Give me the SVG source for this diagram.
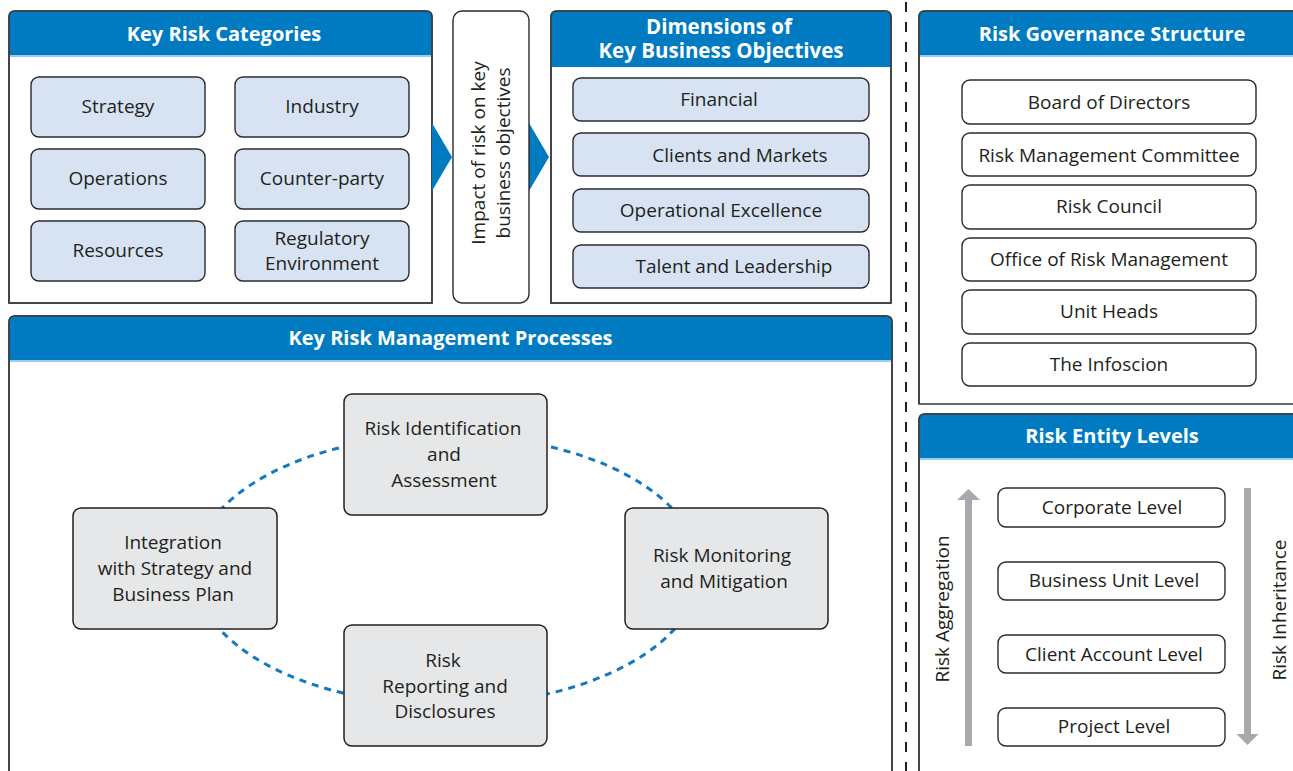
<svg xmlns="http://www.w3.org/2000/svg" width="1293" height="771" viewBox="0 0 1293 771">
<style>
  .panel { fill: #ffffff; stroke: #3a3a3a; stroke-width: 1.5; }
  .edge { fill: none; stroke: #3a3a3a; stroke-width: 1.5; }
  .hdr { fill: #007bc2; }
  .hdrline { stroke: #9ccbee; stroke-width: 2; }
  .title { font-family: "Open Sans", "Liberation Sans", sans-serif; font-weight: bold; font-size: 20px; fill: #ffffff; text-anchor: middle; }
  .t { font-family: "Open Sans", "Liberation Sans", sans-serif; font-size: 19px; fill: #231f20; text-anchor: middle; }
  .blue { fill: #d7e3f3; stroke: #2b2b2b; stroke-width: 1.4; }
  .white { fill: #ffffff; stroke: #2b2b2b; stroke-width: 1.4; }
  .grey { fill: #e6e7e8; stroke: #231f20; stroke-width: 1.5; }
  .tri { fill: #007bc2; }
  .garrow { fill: #a7a9ac; }
</style>
<rect width="1293" height="771" fill="#ffffff"/>

<g id="key-risk-categories">
  <path class="panel" d="M9,303 V17 Q9,11 15,11 H426 Q432,11 432,17 V303 Z"/>
  <path class="hdr" d="M9,56 V17 Q9,11 15,11 H426 Q432,11 432,17 V56 Z"/>
  <line class="hdrline" x1="9.75" y1="56" x2="431.25" y2="56"/>
  <path class="edge" d="M9,303 V17 Q9,11 15,11 H426 Q432,11 432,17 V303 Z"/>
  <text class="title" x="224" y="41">Key Risk Categories</text>
</g>

<g id="dimensions">
  <path class="panel" d="M551,303 V17 Q551,11 557,11 H885 Q891,11 891,17 V303 Z"/>
  <path class="hdr" d="M551,67 V17 Q551,11 557,11 H885 Q891,11 891,17 V67 Z"/>
  <path class="edge" d="M551,303 V17 Q551,11 557,11 H885 Q891,11 891,17 V303 Z"/>
  <text class="title" style="font-size:20.5px"><tspan x="719" y="34">Dimensions of</tspan><tspan x="721" y="58">Key Business Objectives</tspan></text>
</g>

<g id="governance">
  <path class="panel" d="M919,404 V17 Q919,11 925,11 H1300 V404 Z"/>
  <path class="hdr" d="M919,56 V17 Q919,11 925,11 H1300 V56 Z"/>
  <line class="hdrline" x1="919.75" y1="56" x2="1300" y2="56"/>
  <path class="edge" d="M919,404 V17 Q919,11 925,11 H1300"/>
  <text class="title" x="1112" y="41">Risk Governance Structure</text>
</g>

<g id="entity-levels">
  <path class="panel" d="M919,780 V420 Q919,414 925,414 H1300 V780 Z"/>
  <path class="hdr" d="M919,459 V420 Q919,414 925,414 H1300 V459 Z"/>
  <line class="hdrline" x1="919.75" y1="459" x2="1300" y2="459"/>
  <path class="edge" d="M919,780 V420 Q919,414 925,414 H1300"/>
  <text class="title" x="1112" y="443">Risk Entity Levels</text>
  <text class="t" transform="translate(949,609) rotate(-90)" x="0" y="0">Risk Aggregation</text>
  <text class="t" transform="translate(1286,610) rotate(-90)" x="0" y="0">Risk Inheritance</text>
</g>

<g id="processes">
  <path class="panel" d="M9,780 V322 Q9,316 15,316 H886 Q892,316 892,322 V780 Z"/>
  <path class="hdr" d="M9,361 V322 Q9,316 15,316 H886 Q892,316 892,322 V361 Z"/>
  <line class="hdrline" x1="9.75" y1="361" x2="891.25" y2="361"/>
  <path class="edge" d="M9,780 V322 Q9,316 15,316 H886 Q892,316 892,322 V780"/>
  <text class="title" x="450.5" y="345">Key Risk Management Processes</text>
</g>

<g id="connectors">
  <polygon class="tri" points="432,123 452,157 432,191"/>
  <polygon class="tri" points="529,123 549,157 529,191"/>
  <line x1="906" y1="2" x2="906" y2="771" stroke="#231f20" stroke-width="2" stroke-dasharray="10 10"/>
  <ellipse id="cycle" cx="447" cy="570" rx="253" ry="135" fill="none" stroke="#1479bd" stroke-width="3" stroke-dasharray="7 6"/>
  <g id="arrow-aggregation">
    <rect class="garrow" x="965" y="499" width="7" height="247"/>
    <polygon class="garrow" points="957,500 968.5,489 980,500"/>
  </g>
  <g id="arrow-inheritance">
    <rect class="garrow" x="1244" y="488" width="7" height="247"/>
    <polygon class="garrow" points="1236.5,734 1258.5,734 1247.5,745"/>
  </g>
</g>

<g id="strategy"><rect class="blue" x="31" y="77" width="174" height="60" rx="8"/><text class="t" x="118" y="113">Strategy</text></g>
<g id="industry"><rect class="blue" x="235" y="77" width="174" height="60" rx="8"/><text class="t" x="322" y="113">Industry</text></g>
<g id="operations"><rect class="blue" x="31" y="149" width="174" height="60" rx="8"/><text class="t" x="118" y="185">Operations</text></g>
<g id="counter-party"><rect class="blue" x="235" y="149" width="174" height="60" rx="8"/><text class="t" x="322" y="185">Counter-party</text></g>
<g id="resources"><rect class="blue" x="31" y="221" width="174" height="60" rx="8"/><text class="t" x="118" y="257">Resources</text></g>
<g id="regulatory"><rect class="blue" x="235" y="221" width="174" height="60" rx="8"/><text class="t" x="322" y="245">Regulatory</text><text class="t" x="322" y="270">Environment</text></g>

<g id="impact">
  <rect class="white" x="453" y="11" width="76" height="292" rx="9"/>
  <text class="t" transform="translate(485,153) rotate(-90)" x="0" y="0">Impact of risk on key</text>
  <text class="t" transform="translate(510,153) rotate(-90)" x="0" y="0">business objectives</text>
</g>

<g id="financial"><rect class="blue" x="573" y="78" width="296" height="43" rx="8"/><text class="t" x="719" y="106">Financial</text></g>
<g id="clients"><rect class="blue" x="573" y="133" width="296" height="43" rx="8"/><text class="t" x="740" y="162">Clients and Markets</text></g>
<g id="operational"><rect class="blue" x="573" y="189" width="296" height="43" rx="8"/><text class="t" x="721" y="217">Operational Excellence</text></g>
<g id="talent"><rect class="blue" x="573" y="245" width="296" height="43" rx="8"/><text class="t" x="734" y="273">Talent and Leadership</text></g>

<g id="board"><rect class="white" x="962" y="80" width="294" height="44" rx="8"/><text class="t" x="1109" y="109">Board of Directors</text></g>
<g id="rmc"><rect class="white" x="962" y="133" width="294" height="43" rx="8"/><text class="t" x="1109" y="162">Risk Management Committee</text></g>
<g id="council"><rect class="white" x="962" y="185" width="294" height="44" rx="8"/><text class="t" x="1109" y="213">Risk Council</text></g>
<g id="office"><rect class="white" x="962" y="238" width="294" height="43" rx="8"/><text class="t" x="1109" y="266">Office of Risk Management</text></g>
<g id="unit-heads"><rect class="white" x="962" y="290" width="294" height="44" rx="8"/><text class="t" x="1109" y="318">Unit Heads</text></g>
<g id="infoscion"><rect class="white" x="962" y="343" width="294" height="43" rx="8"/><text class="t" x="1109" y="371">The Infoscion</text></g>

<g id="corporate"><rect class="white" x="998" y="488" width="227" height="39" rx="8"/><text class="t" x="1112" y="514">Corporate Level</text></g>
<g id="business-unit"><rect class="white" x="998" y="562" width="227" height="38" rx="8"/><text class="t" x="1114" y="587">Business Unit Level</text></g>
<g id="client-account"><rect class="white" x="998" y="635" width="227" height="38" rx="8"/><text class="t" x="1114" y="661">Client Account Level</text></g>
<g id="project"><rect class="white" x="998" y="708" width="227" height="38" rx="8"/><text class="t" x="1114" y="733">Project Level</text></g>

<g id="risk-identification">
  <rect class="grey" x="344" y="394" width="203" height="121" rx="8"/>
  <text class="t" x="443" y="435">Risk Identification</text>
  <text class="t" x="444" y="461">and</text>
  <text class="t" x="444" y="487">Assessment</text>
</g>
<g id="integration">
  <rect class="grey" x="73" y="508" width="204" height="121" rx="8"/>
  <text class="t" x="173" y="549">Integration</text>
  <text class="t" x="175" y="575">with Strategy and</text>
  <text class="t" x="173" y="601">Business Plan</text>
</g>
<g id="monitoring">
  <rect class="grey" x="625" y="508" width="203" height="121" rx="8"/>
  <text class="t" x="722" y="562">Risk Monitoring</text>
  <text class="t" x="724" y="588">and Mitigation</text>
</g>
<g id="reporting">
  <rect class="grey" x="344" y="625" width="203" height="121" rx="8"/>
  <text class="t" x="443" y="667">Risk</text>
  <text class="t" x="445" y="693">Reporting and</text>
  <text class="t" x="445" y="718">Disclosures</text>
</g>
</svg>
